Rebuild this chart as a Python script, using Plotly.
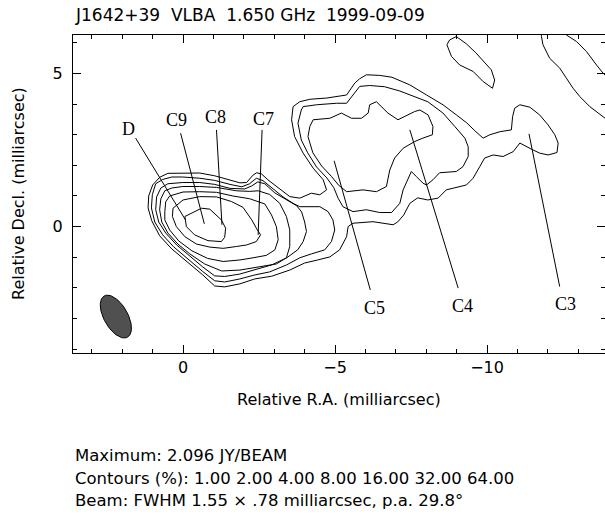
import numpy as np
import plotly.graph_objects as go

# ---------------------------------------------------------------
# J1642+39, VLBA 1.650 GHz, 1999-09-09
# Contour paths in relative RA / Dec offsets (milliarcsec)
# ---------------------------------------------------------------
contour_levels = [1.00, 2.00, 4.00, 8.00, 16.00, 32.00, 64.00]
peak_jy = 2.096

# 64% level (core)
c64_ra = [-0.06, -0.61, -0.88, -1.26, -1.40, -1.37, -1.26, -0.82, -0.38, -0.11]
c64_dec = [0.33, 0.60, 0.57, 0.22, -0.05, -0.35, -0.49, -0.46, -0.27, 0.00]

# 32% level
c32_ra = [0.35, 0.33, 0.00, -0.55, -1.10, -1.59, -1.97, -2.26, -2.41, -2.55,
          -2.41, -2.09, -1.76, -1.32, -0.88, -0.44, -0.06, 0.22]
c32_dec = [0.33, 0.60, 0.87, 0.98, 0.97, 0.82, 0.63, 0.22, -0.05, -0.27,
           -0.49, -0.60, -0.65, -0.71, -0.67, -0.57, -0.33, 0.00]

# 16% level
c16_ra = [0.60, 0.57, 0.44, 0.00, -0.55, -1.10, -1.64, -2.19, -2.69, -2.91,
          -3.07, -3.13, -3.02, -2.74, -2.30, -1.87, -1.32, -0.81, -0.29, 0.14,
          0.44, 0.60]
c16_dec = [0.48, 0.81, 1.00, 1.13, 1.14, 1.12, 1.00, 0.91, 0.74, 0.38,
           0.00, -0.43, -0.76, -0.94, -1.02, -1.09, -1.14, -1.04, -0.79, -0.47,
           -0.11, 0.22]

# 8% level
c8_ra = [0.77, 0.73, 0.60, 0.37, 0.01, -0.55, -1.10, -1.76, -2.19, -2.47,
         -2.85, -3.18, -3.40, -3.51, -3.51, -3.40, -3.07, -2.52, -1.87, -1.27,
         -0.71, -0.22, 0.17, 0.50, 0.70]
c8_dec = [0.55, 0.91, 1.17, 1.26, 1.31, 1.31, 1.28, 1.17, 1.15, 1.17,
          1.05, 0.76, 0.33, -0.11, -0.65, -1.02, -1.22, -1.32, -1.42, -1.45,
          -1.22, -0.89, -0.57, -0.21, 0.15]

# 4% level, core lobe
c4_ra = [0.90, 0.87, 0.73, 0.50, 0.01, -0.55, -1.04, -1.54, -2.03, -2.26,
         -2.46, -2.69, -3.02, -3.41, -3.74, -3.90, -4.00, -4.06, -3.95, -3.77,
         -3.41, -2.92, -2.36, -1.87, -1.37, -1.04, -0.65, -0.22, 0.21, 0.57,
         0.80]
c4_dec = [0.55, 0.97, 1.26, 1.40, 1.44, 1.44, 1.38, 1.25, 1.23, 1.33,
          1.46, 1.40, 1.10, 0.87, 0.68, 0.48, 0.15, -0.16, -0.49, -0.76,
          -1.02, -1.25, -1.42, -1.55, -1.63, -1.61, -1.32, -0.96, -0.60, -0.21,
          0.15]

# 4% level, jet lobe (C5/C4)
c4j_ra = [-4.17, -4.28, -4.83, -5.21, -5.54, -5.87, -6.09, -6.14, -6.36, -6.74,
          -7.07, -7.29, -7.62, -7.79, -8.06, -8.22, -8.20, -7.89, -7.62, -7.24,
          -6.96, -6.80, -6.69, -6.36, -5.92, -5.38, -5.12, -4.89, -4.56, -4.27,
          -4.11]
c4j_dec = [3.27, 3.49, 3.54, 3.71, 3.54, 3.54, 3.71, 3.98, 4.08, 3.71,
           3.49, 3.59, 3.76, 3.81, 3.65, 3.27, 3.00, 2.89, 2.78, 2.56,
           2.24, 1.85, 1.31, 1.14, 1.20, 1.14, 1.35, 1.63, 1.98, 2.41,
           2.94]

# 2% level, core lobe
c2_ra = [1.04, 1.01, 0.90, 0.67, 0.37, 0.01, -0.55, -1.04, -1.54, -1.93,
         -2.19, -2.41, -2.63, -2.92, -3.29, -3.62, -3.84, -4.50, -4.77, -4.93,
         -4.99, -4.88, -4.66, -4.23, -3.84, -3.41, -2.85, -2.36, -1.87, -1.37,
         -1.04, -0.65, -0.15, 0.31, 0.67, 0.93]
c2_dec = [0.61, 1.04, 1.40, 1.54, 1.62, 1.62, 1.58, 1.51, 1.38, 1.30,
          1.40, 1.58, 1.50, 1.26, 0.97, 0.76, 0.65, 0.65, 0.49, 0.22,
          -0.11, -0.49, -0.76, -0.89, -1.02, -1.25, -1.48, -1.58, -1.71, -1.81,
          -1.77, -1.47, -1.06, -0.66, -0.27, 0.15]

# 2% level, jet lobe
c2j_ra = [-3.89, -3.78, -3.89, -4.10, -4.39, -4.73, -4.96, -5.10, -5.26, -5.59,
          -6.03, -6.47, -6.86, -7.13, -7.24, -7.40, -7.51, -7.68, -7.89, -8.01,
          -8.22, -8.44, -8.99, -9.21, -9.38, -9.38, -9.27, -8.94, -8.55, -8.05,
          -7.56, -7.13, -6.63, -6.14, -5.81, -5.59, -5.38, -5.05, -4.39, -3.95]
c2j_dec = [3.81, 3.38, 2.83, 2.41, 1.95, 1.59, 1.27, 0.93, 0.65, 0.49,
           0.55, 0.46, 0.46, 0.76, 1.20, 1.53, 1.80, 1.63, 1.42, 1.36,
           1.53, 1.76, 1.80, 1.96, 2.29, 2.61, 2.89, 3.27, 3.71, 4.08,
           4.27, 4.43, 4.57, 4.61, 4.58, 4.30, 4.03, 4.03, 3.98, 3.92]

# 1% level, envelope of core + jet + C3
c1_ra = [-5.15, -4.83, -4.43, -4.00, -3.51, -2.92, -2.36, -1.87, -1.37, -1.04,
         -0.65, -0.12, 0.37, 0.77, 1.03, 1.15, 1.13, 1.00, 0.77, 0.50,
         0.01, -0.55, -1.04, -1.54, -1.87, -2.09, -2.29, -2.42, -2.58, -2.79,
         -3.08, -3.51, -3.84, -4.22, -4.50, -4.72, -4.61, -4.28, -3.95, -3.67,
         -3.57, -3.62, -3.84, -4.17, -4.72, -5.38, -5.65, -5.81, -6.03, -6.47,
         -6.87, -7.46, -8.01, -8.55, -8.99, -9.33, -9.60, -9.87, -10.09, -10.42,
         -10.80, -10.84, -10.91, -11.08, -11.41, -11.73, -12.01, -12.23, -12.34, -12.30,
         -12.01, -11.73, -11.46, -11.08, -10.86, -10.53, -10.20, -9.92, -9.76, -9.54,
         -9.32, -9.10, -8.66, -8.39, -8.05, -7.72, -7.46, -7.26, -7.06, -6.91,
         -6.25, -5.59, -5.43, -5.38]
c1_dec = [-0.76, -0.99, -1.09, -1.19, -1.42, -1.62, -1.71, -1.87, -1.97, -1.94,
          -1.58, -1.15, -0.73, -0.30, 0.19, 0.61, 1.00, 1.36, 1.61, 1.74,
          1.75, 1.75, 1.66, 1.53, 1.43, 1.44, 1.67, 1.76, 1.72, 1.53,
          1.30, 0.98, 0.93, 1.09, 1.04, 1.20, 1.53, 1.91, 2.40, 2.94,
          3.49, 3.92, 4.08, 4.16, 4.20, 4.30, 4.69, 4.83, 4.96, 4.94,
          4.88, 4.63, 4.30, 3.98, 3.65, 3.39, 3.13, 2.89, 3.00, 3.10,
          3.16, 3.59, 3.87, 3.98, 3.90, 3.65, 3.32, 3.00, 2.73, 2.42,
          2.34, 2.40, 2.53, 2.73, 2.45, 2.29, 2.34, 2.24, 1.96, 1.58,
          1.36, 1.31, 1.20, 0.93, 0.87, 0.94, 0.76, 0.38, 0.15, 0.06,
          0.16, 0.11, 0.00, -0.33]

# 1% level, isolated island to the north-west
c1i_ra = [-8.99, -9.32, -9.63, -9.92, -10.14, -10.25, -10.18, -9.87, -9.54, -9.10,
          -8.83, -8.68, -8.77]
c1i_dec = [6.21, 5.97, 5.68, 5.38, 5.12, 4.79, 4.52, 4.74, 5.07, 5.28,
           5.56, 5.94, 6.10]

# 1% level, open contour leaving the field (north-west corner)
c1o_ra = [-14.04, -13.71, -13.38, -13.05, -12.83, -12.61, -12.39, -12.06, -11.84, -11.79,
          -11.77, -12.46, -12.61, -12.94, -13.27, -13.60, -13.82, -14.10]
c1o_dec = [3.42, 3.66, 3.92, 4.25, 4.52, 4.85, 5.18, 5.50, 5.94, 6.21,
           6.49, 6.49, 6.26, 6.05, 5.72, 5.28, 5.01, 4.73]

# Component labels and their pointer lines
comp_names = ["D", "C9", "C8", "C7", "C5", "C4", "C3"]
comp_label_ra = [1.81, 0.22, -1.07, -2.63, -6.31, -9.18, -12.58]
comp_label_dec = [3.19, 3.48, 3.58, 3.53, -2.67, -2.59, -2.52]
ptr_from_ra = [1.56, 0.08, -1.10, -2.60, -6.16, -9.05, -12.39]
ptr_from_dec = [2.89, 3.05, 3.16, 3.16, -2.07, -2.01, -1.96]
ptr_to_ra = [-0.08, -0.70, -1.28, -2.47, -4.97, -7.46, -11.38]
ptr_to_dec = [0.22, 0.09, 0.06, -0.27, 2.15, 3.16, 3.03]

# Restoring beam
beam_major = 1.55
beam_minor = 0.78
beam_pa = 29.8
beam_center_ra = 2.21
beam_center_dec = -2.94

# ---------------------------------------------------------------
fig = go.Figure()

closed = [(c64_ra, c64_dec), (c32_ra, c32_dec), (c16_ra, c16_dec),
          (c8_ra, c8_dec), (c4_ra, c4_dec), (c4j_ra, c4j_dec),
          (c2_ra, c2_dec), (c2j_ra, c2j_dec), (c1_ra, c1_dec),
          (c1i_ra, c1i_dec)]
for xs, ys in closed:
    fig.add_trace(go.Scatter(x=list(xs) + [xs[0]], y=list(ys) + [ys[0]],
                             mode="lines", line=dict(color="black", width=1),
                             hoverinfo="skip"))

fig.add_trace(go.Scatter(x=c1o_ra, y=c1o_dec, mode="lines",
                         line=dict(color="black", width=1), hoverinfo="skip"))

# pointer lines
px, py = [], []
for a, b, c, d in zip(ptr_from_ra, ptr_from_dec, ptr_to_ra, ptr_to_dec):
    px += [a, c, None]
    py += [b, d, None]
fig.add_trace(go.Scatter(x=px, y=py, mode="lines",
                         line=dict(color="black", width=1), hoverinfo="skip"))

# beam ellipse (PA measured from north through east; east = +RA offset)
t = np.linspace(0, 2 * np.pi, 91)
th = np.deg2rad(beam_pa)
a, b = beam_major / 2, beam_minor / 2
ex = beam_center_ra + a * np.cos(t) * np.sin(th) + b * np.sin(t) * np.cos(th)
ey = beam_center_dec + a * np.cos(t) * np.cos(th) - b * np.sin(t) * np.sin(th)
fig.add_trace(go.Scatter(x=ex, y=ey, mode="lines", fill="toself",
                         fillcolor="#505050", line=dict(color="black", width=1),
                         hoverinfo="skip"))

serif = "Liberation Serif, Times New Roman, serif"
sans = "DejaVu Sans, sans-serif"

annotations = []
for name, x, y in zip(comp_names, comp_label_ra, comp_label_dec):
    annotations.append(dict(x=x, y=y, xref="x", yref="y", text=name,
                            showarrow=False, xanchor="center", yanchor="middle",
                            font=dict(family=serif, size=18, color="black")))

# plot box in pixels: left 73, right 605, top 35, bottom 353
W, H = 605, 515
L, R, T, B = 73, 0, 35, 162
pw, ph = W - L - R, H - T - B


def py2paper(pix):
    return (H - B - pix) / ph


def px2paper(pix):
    return (pix - L) / pw


nb = "\u00a0"
title = f"J1642+39{nb*2}VLBA{nb*2}1.650 GHz{nb*2}1999-09-09"
annotations.append(dict(x=0, y=py2paper(15), xref="paper", yref="paper",
                        text=title, showarrow=False, xanchor="left",
                        yanchor="middle", font=dict(family=sans, size=17)))
annotations.append(dict(x=0.5, y=py2paper(399), xref="paper", yref="paper",
                        text="Relative R.A. (milliarcsec)", showarrow=False,
                        xanchor="center", yanchor="middle",
                        font=dict(family=sans, size=16)))
annotations.append(dict(x=px2paper(18), y=0.5, xref="paper", yref="paper",
                        text="Relative Decl. (milliarcsec)", showarrow=False,
                        textangle=-90, xanchor="center", yanchor="middle",
                        font=dict(family=sans, size=16)))

levels_txt = " ".join(f"{v:.2f}" for v in contour_levels)
minor_txt = f"{beam_minor:.2f}".lstrip("0")
info_lines = [
    f"Maximum: {peak_jy:.3f} JY/BEAM",
    f"Contours (%): {levels_txt}",
    f"Beam: FWHM {beam_major:.2f} \u00d7 {minor_txt} milliarcsec, p.a. {beam_pa:.1f}\u00b0",
]
for txt, ypix in zip(info_lines, [455, 478, 500]):
    annotations.append(dict(x=0, y=py2paper(ypix), xref="paper", yref="paper",
                            text=txt, showarrow=False, xanchor="left",
                            yanchor="middle", font=dict(family=sans, size=16.5)))

axis_common = dict(
    ticks="inside", ticklen=8, tickwidth=1, tickcolor="black",
    showline=True, linecolor="black", linewidth=1, mirror="allticks",
    showgrid=False, zeroline=False, dtick=5, tick0=0,
    tickfont=dict(family=sans, size=16, color="black"),
    minor=dict(dtick=1, tick0=0, ticks="inside", ticklen=4,
               tickcolor="black", tickwidth=1, showgrid=False),
)

fig.update_layout(
    width=W, height=H,
    margin=dict(l=L, r=R, t=T, b=B),
    paper_bgcolor="white", plot_bgcolor="white",
    showlegend=False,
    font=dict(family=sans, size=16, color="black"),
    xaxis=dict(range=[3.62, -13.88], **axis_common),
    yaxis=dict(range=[-4.13, 6.26], ticklabelstandoff=6, **axis_common),
    annotations=annotations,
)

fig.write_html("out.html")
